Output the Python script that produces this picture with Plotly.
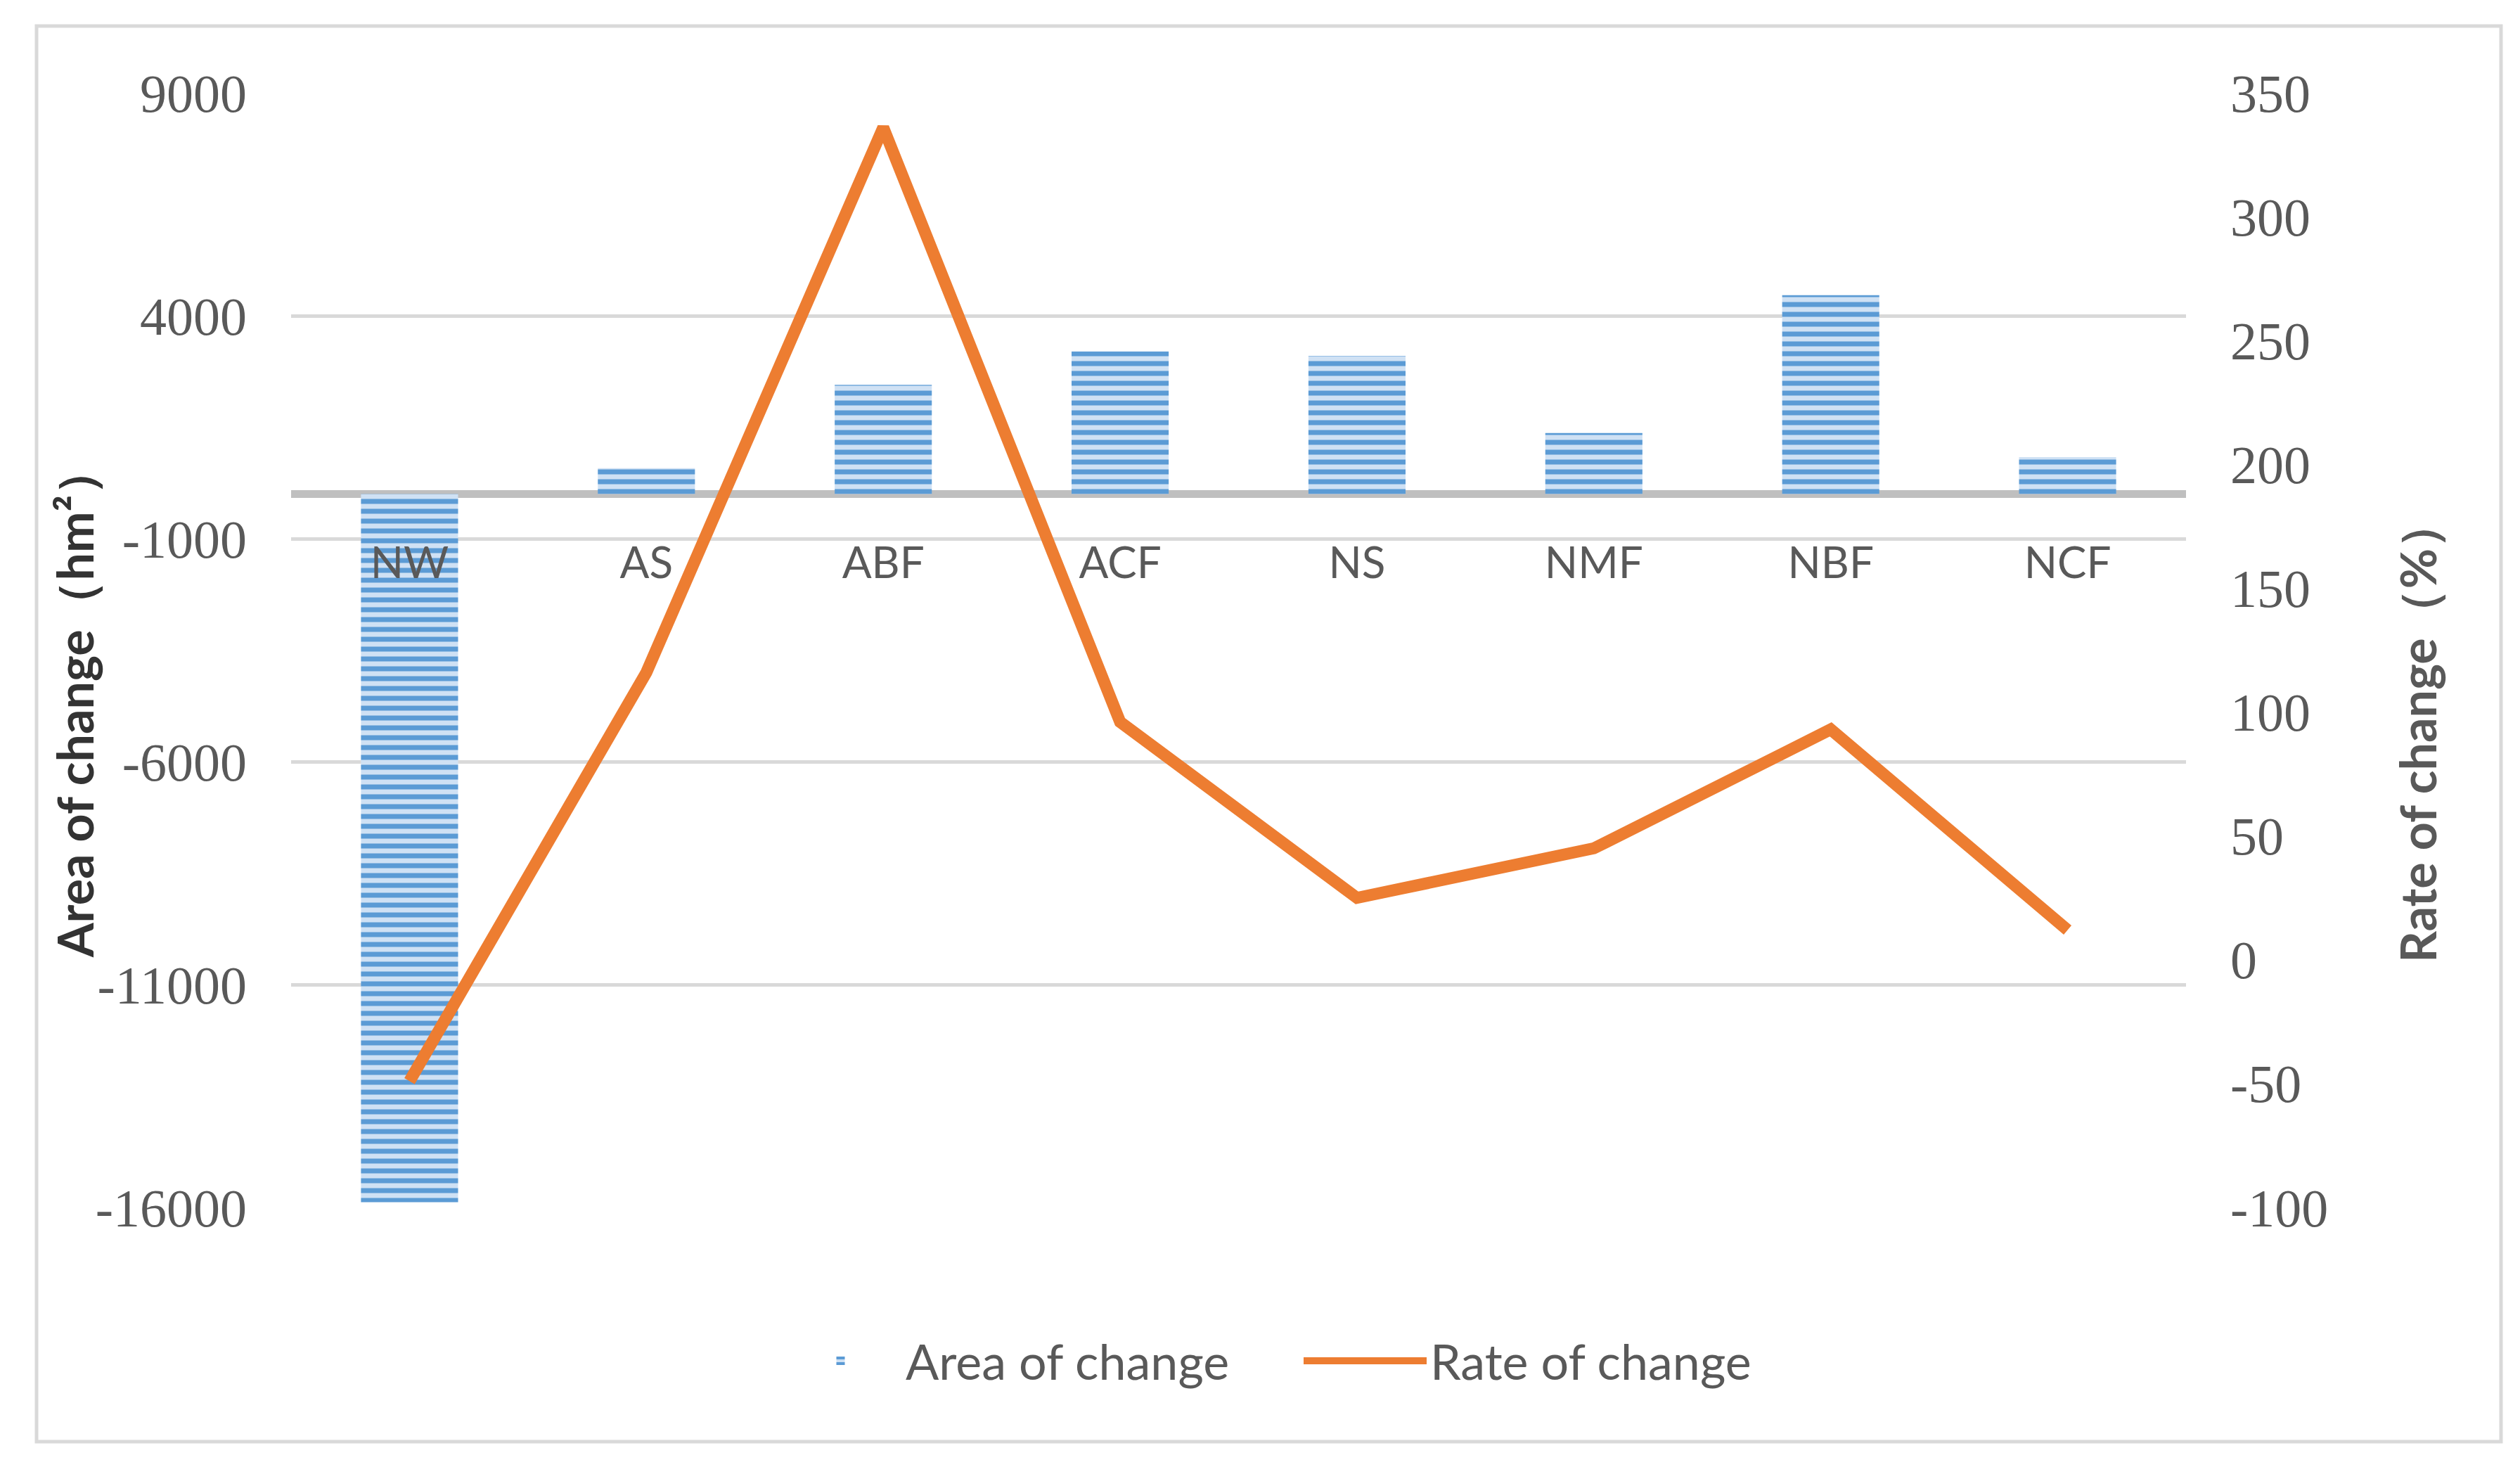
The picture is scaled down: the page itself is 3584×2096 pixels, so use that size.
import plotly.graph_objects as go

categories = ["NW", "AS", "ABF", "ACF", "NS", "NMF", "NBF", "NCF"]
area_change = [-15880, 580, 2450, 3200, 3100, 1370, 4460, 830]
rate_change = [-49, 116, 336, 96, 25, 45, 93, 12]

left_ticks = [-16000, -11000, -6000, -1000, 4000, 9000]
left_ticktext = ["-16000", "-11000", "-6000", "-1000", "4000", "9000"]
right_ticks = [-100, -50, 0, 50, 100, 150, 200, 250, 300, 350]
right_ticktext = ["-100", "-50", "0", "50", "100", "150", "200", "250", "300", "350"]

GRAY = "#595959"
W, H = 3584, 2096
L, R, T, B = 406, 483, 124, 387
pw, ph = W - L - R, H - T - B
bottom_px = H - B


def px_x(x):
    return (x - L) / pw


def px_y(y):
    return (bottom_px - y) / ph


fig = go.Figure()
fig.add_trace(go.Bar(
    x=categories, y=area_change, name="Area of change",
    marker=dict(color="#5B9BD5", line=dict(width=0),
                pattern=dict(shape="-", fgcolor="#5B9BD5", bgcolor="#CFE1F4",
                             size=14, solidity=0.5, fillmode="replace")),
    yaxis="y",
))
fig.add_trace(go.Scatter(
    x=categories, y=rate_change, name="Rate of change", mode="lines",
    line=dict(color="#ED7D31", width=17),
    yaxis="y2",
))

zero_pos = (0 - left_ticks[0]) / (left_ticks[-1] - left_ticks[0])

fig.update_layout(
    width=W, height=H,
    margin=dict(l=L, r=R, t=T, b=B),
    paper_bgcolor="white", plot_bgcolor="white",
    bargap=0.59,
    showlegend=True,
    legend=dict(orientation="h", x=px_x(1095), xanchor="left", y=px_y(1927), yanchor="middle",
                font=dict(family="Lato", size=70, color=GRAY), itemwidth=175,
                entrywidth=556, entrywidthmode="pixels",
                traceorder="normal"),
    xaxis=dict(anchor="free", position=zero_pos, showgrid=False, showline=False,
               zeroline=False, ticks="", ticklabelstandoff=56,
               tickfont=dict(family="Lato", size=62, color=GRAY)),
    yaxis=dict(range=[left_ticks[0], left_ticks[-1]], tickvals=left_ticks,
               ticktext=left_ticktext,
               showgrid=True, gridcolor="#D9D9D9", gridwidth=5,
               zeroline=True, zerolinecolor="#BFBFBF", zerolinewidth=11,
               showline=False, ticks="", ticklabelstandoff=62,
               tickfont=dict(family="Liberation Serif", size=76, color=GRAY)),
    yaxis2=dict(range=[right_ticks[0], right_ticks[-1]], tickvals=right_ticks,
                ticktext=right_ticktext,
                overlaying="y", side="right", showgrid=False, zeroline=False,
                showline=False, ticks="", ticklabelstandoff=62,
                tickfont=dict(family="Liberation Serif", size=76, color=GRAY)),
    annotations=[
        dict(text="<b>Area of change（hm²）</b>", xref="paper", yref="paper",
             x=px_x(98), y=px_y(990), textangle=-90, showarrow=False,
             xanchor="center", yanchor="middle",
             font=dict(family="Lato", size=70, color="#333333")),
        dict(text="<b>Rate of change（%）</b>", xref="paper", yref="paper",
             x=px_x(3430), y=px_y(1032), textangle=-90, showarrow=False,
             xanchor="center", yanchor="middle",
             font=dict(family="Lato", size=70, color=GRAY)),
    ],
    shapes=[dict(type="rect", xref="paper", yref="paper",
                 x0=px_x(44), x1=px_x(3549),
                 y0=px_y(2042), y1=px_y(29),
                 line=dict(color="#D9D9D9", width=5), fillcolor="rgba(0,0,0,0)",
                 layer="below")],
)

fig.write_html("out.html")
